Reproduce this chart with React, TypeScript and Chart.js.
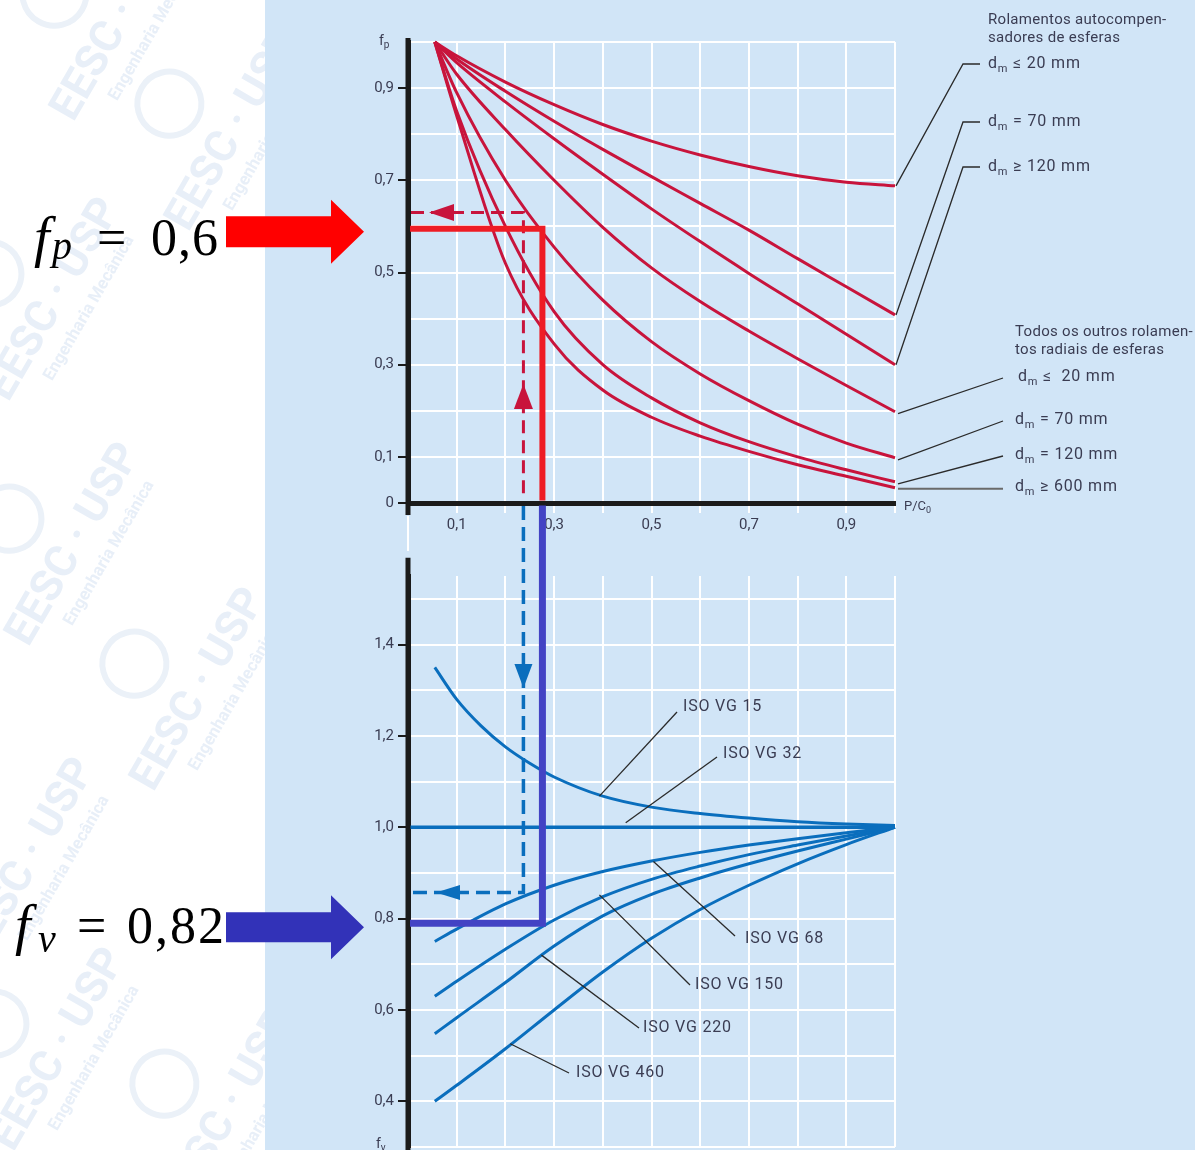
import React, { useEffect, useRef } from 'react';
import { Chart, registerables } from 'chart.js';

Chart.register(...registerables);

// ---------------- data ----------------
// P/C0 abscissa of the f_p curves
const pcRatio = [0.055, 0.1, 0.2, 0.3, 0.4, 0.5, 0.6, 0.7, 0.8, 0.9, 1.0];
// self-aligning ball bearings
const fpSelfAlignDm20 = [1.0, 0.97, 0.913, 0.864, 0.821, 0.785, 0.755, 0.73, 0.71, 0.696, 0.688];
const fpSelfAlignDm70 = [1.0, 0.963, 0.893, 0.828, 0.767, 0.708, 0.65, 0.592, 0.53, 0.469, 0.408];
const fpSelfAlignDm120 = [1.0, 0.955, 0.87, 0.79, 0.713, 0.638, 0.567, 0.498, 0.432, 0.366, 0.3];
// all other radial ball bearings
const fpRadialDm20 = [1.0, 0.93, 0.81, 0.7, 0.598, 0.51, 0.437, 0.373, 0.313, 0.255, 0.198];
const fpRadialDm70 = [1.0, 0.89, 0.7, 0.555, 0.44, 0.35, 0.28, 0.222, 0.171, 0.13, 0.098];
const fpRadialDm120 = [1.0, 0.85, 0.6, 0.415, 0.3, 0.228, 0.174, 0.133, 0.1, 0.072, 0.046];
const fpRadialDm600 = [1.0, 0.84, 0.52, 0.345, 0.245, 0.186, 0.145, 0.112, 0.083, 0.058, 0.033];

// viscosity factor curves f_v
const vg15Ratio = [0.055, 0.1, 0.15, 0.2, 0.25, 0.3, 0.4, 0.5, 0.6, 0.7, 0.8, 0.9, 1.0];
const fvVG15 = [1.35, 1.28, 1.222, 1.176, 1.14, 1.11, 1.068, 1.044, 1.03, 1.02, 1.012, 1.007, 1.004];
const vg32Ratio = [0, 1.0];
const fvVG32 = [1.0, 1.0];
const vgLowRatio = [0.055, 0.1, 0.2, 0.3, 0.4, 0.5, 0.6, 0.7, 0.8, 0.9, 1.0];
const fvVG68 = [0.75, 0.777, 0.832, 0.873, 0.903, 0.926, 0.945, 0.961, 0.975, 0.988, 1.0];
const fvVG150 = [0.63, 0.663, 0.733, 0.797, 0.848, 0.886, 0.915, 0.94, 0.961, 0.981, 1.0];
const fvVG220 = [0.548, 0.583, 0.66, 0.74, 0.806, 0.853, 0.889, 0.92, 0.948, 0.974, 1.0];
const fvVG460 = [0.4, 0.435, 0.515, 0.6, 0.683, 0.757, 0.82, 0.873, 0.92, 0.962, 1.0];

// ticks
const xTickValues = [0, 0.1, 0.2, 0.3, 0.4, 0.5, 0.6, 0.7, 0.8, 0.9, 1.0];
const xLabelValues = [0.1, 0.3, 0.5, 0.7, 0.9];
const fpTickValues = [0, 0.1, 0.2, 0.3, 0.4, 0.5, 0.6, 0.7, 0.8, 0.9, 1.0];
const fpLabelValues = [0, 0.1, 0.3, 0.5, 0.7, 0.9];
const fvTickValues = [0.3, 0.4, 0.5, 0.6, 0.7, 0.8, 0.9, 1.0, 1.1, 1.2, 1.3, 1.4, 1.5];
const fvLabelValues = [0.4, 0.6, 0.8, 1.0, 1.2, 1.4];

// readings (worked example)
const solidReading = { x: 0.276, fp: 0.595, fv: 0.79 };
const dashedReading = { x: 0.237, fp: 0.63, fv: 0.857 };

// labels
const selfAlignHeader = ['Rolamentos autocompen-', 'sadores de esferas'];
const selfAlignLabels = [' ≤ 20 mm', ' = 70 mm', ' ≥ 120 mm'];
const radialHeader = ['Todos os outros rolamen-', 'tos radiais de esferas'];
const radialLabels = [' ≤  20 mm', ' = 70 mm', ' = 120 mm', ' ≥ 600 mm'];
const oilLabels = ['ISO VG 15', 'ISO VG 32', 'ISO VG 68', 'ISO VG 150', 'ISO VG 220', 'ISO VG 460'];
const oilAnchorX = [0.393, 0.447, 0.504, 0.393, 0.274, 0.21];
const oilAnchorY = [1.068, 1.01, 0.925, 0.852, 0.72, 0.526];
const watermarkTitle = 'EESC · USP';
const watermarkSubtitle = 'Engenharia Mecânica';

// ---------------- styling ----------------
const AXIS = '#1b1b1b';
const GRID = '#ffffff';
const BG_BLUE = '#d1e5f7';
const RED_CURVE = '#c8143c';
const RED_SOLID = '#ee1c25';
const BLUE_CURVE = '#0a6ebd';
const PURPLE = '#4343c4';
const TEXT = '#3a3c52';
const LEADER = '#2a2a2a';
const FONT = 'Roboto, "Liberation Sans", sans-serif';
const MATH = '"Liberation Serif", "DejaVu Serif", serif';
const NONE = 'rgba(0,0,0,0)';

const near = (arr: number[], v: number) => arr.some((a) => Math.abs(a - v) < 1e-6);
const fmt = (v: number) => (Math.abs(v) < 1e-9 ? '0' : v.toFixed(1).replace('.', ','));

function subText(ctx: any, x: number, y: number, main: string, sub: string, rest: string, size: number, subSize: number, color: string, spacing = 0) {
  ctx.fillStyle = color;
  ctx.textAlign = 'left';
  ctx.textBaseline = 'middle';
  ctx.letterSpacing = `${spacing}px`;
  ctx.font = `${size}px ${FONT}`;
  ctx.fillText(main, x, y);
  let w = ctx.measureText(main).width;
  ctx.font = `${subSize}px ${FONT}`;
  ctx.fillText(sub, x + w, y + size * 0.32);
  w += ctx.measureText(sub).width;
  ctx.font = `${size}px ${FONT}`;
  if (rest) ctx.fillText(rest, x + w, y);
  ctx.letterSpacing = '0px';
}

function poly(ctx: CanvasRenderingContext2D, pts: number[][], color: string) {
  ctx.fillStyle = color;
  ctx.beginPath();
  ctx.moveTo(pts[0][0], pts[0][1]);
  for (let i = 1; i < pts.length; i++) ctx.lineTo(pts[i][0], pts[i][1]);
  ctx.closePath();
  ctx.fill();
}

function seg(ctx: CanvasRenderingContext2D, pts: number[][], color: string, width: number, dash: number[] = []) {
  ctx.strokeStyle = color;
  ctx.lineWidth = width;
  ctx.setLineDash(dash);
  ctx.lineJoin = 'miter';
  ctx.lineCap = 'butt';
  ctx.beginPath();
  ctx.moveTo(pts[0][0], pts[0][1]);
  for (let i = 1; i < pts.length; i++) ctx.lineTo(pts[i][0], pts[i][1]);
  ctx.stroke();
  ctx.setLineDash([]);
}

const toPoints = (xs: number[], ys: number[]) => xs.map((x, i) => ({ x, y: ys[i] }));

export default function App() {
  const topRef = useRef<HTMLCanvasElement | null>(null);
  const botRef = useRef<HTMLCanvasElement | null>(null);

  useEffect(() => {
    if (!topRef.current || !botRef.current) return;

    const fpSeries = [fpSelfAlignDm20, fpSelfAlignDm70, fpSelfAlignDm120, fpRadialDm20, fpRadialDm70, fpRadialDm120, fpRadialDm600];

    const watermarkPlugin = {
      id: 'watermark',
      beforeDraw(chart: any) {
        const { ctx } = chart;
        ctx.save();
        ctx.beginPath();
        ctx.rect(0, 0, 265, chart.height);
        ctx.clip();
        const spots = [[235, 130], [55, 300], [75, 545], [200, 690], [30, 860], [60, 1050], [230, 1110], [120, 20]];
        spots.forEach(([cx, cy]) => {
          ctx.save();
          ctx.translate(cx, cy);
          ctx.rotate(-Math.PI / 3);
          ctx.textAlign = 'center';
          ctx.textBaseline = 'middle';
          ctx.fillStyle = '#e8eff8';
          ctx.font = `bold 44px ${FONT}`;
          ctx.fillText(watermarkTitle, 0, 0);
          ctx.font = `bold 17px ${FONT}`;
          ctx.fillText(watermarkSubtitle, 10, 34);
          ctx.strokeStyle = '#ebf1f8';
          ctx.lineWidth = 6;
          ctx.beginPath();
          ctx.arc(-10, -70, 32, 0, Math.PI * 2);
          ctx.stroke();
          ctx.restore();
        });
        ctx.restore();
      },
    };

    const topPlugin = {
      id: 'topAnnot',
      afterDraw(chart: any) {
        const { ctx } = chart;
        const xs = chart.scales.x;
        const ys = chart.scales.y;
        const X = (v: number) => xs.getPixelForValue(v);
        const Y = (v: number) => ys.getPixelForValue(v);
        const x0 = X(0);
        const y0 = Y(0);
        ctx.save();

        // axis extension and white line below origin
        seg(ctx, [[x0, Y(1) - 4], [x0, y0 + 12]], AXIS, 5);
        seg(ctx, [[x0, y0 + 13], [x0, y0 + 48]], GRID, 2);

        // dashed reading (red)
        const xd = X(dashedReading.x);
        const yd = Y(dashedReading.fp);
        seg(ctx, [[x0 + 3, yd], [xd, yd], [xd, y0 - 3]], RED_CURVE, 3, [13, 7]);
        poly(ctx, [[x0 + 21, yd], [x0 + 46, yd - 8.5], [x0 + 46, yd + 8.5]], RED_CURVE);
        poly(ctx, [[xd, y0 - 119], [xd - 9.5, y0 - 94], [xd + 9.5, y0 - 94]], RED_CURVE);

        // solid reading (red)
        const xsol = X(solidReading.x);
        const ysol = Y(solidReading.fp);
        seg(ctx, [[x0 + 2, ysol], [xsol, ysol], [xsol, y0 - 2.5]], RED_SOLID, 6);

        // fp label on axis, P/C0 label
        subText(ctx, x0 - 29, Y(1) - 1, 'f', 'p', '', 14, 10, TEXT);
        subText(ctx, X(1) + 9, y0 + 4, 'P/C', '0', '', 13, 9, TEXT);

        // right side labels
        ctx.font = `15px ${FONT}`;
        ctx.fillStyle = TEXT;
        ctx.textAlign = 'left';
        ctx.textBaseline = 'middle';
        ctx.letterSpacing = '0.3px';
        ctx.fillText(selfAlignHeader[0], 988, 20);
        ctx.fillText(selfAlignHeader[1], 988, 38);
        ctx.fillText(radialHeader[0], 1015, 332);
        ctx.fillText(radialHeader[1], 1015, 350);
        ctx.letterSpacing = '0px';
        const lastX = pcRatio[pcRatio.length - 1];
        const saSeries = [fpSelfAlignDm20, fpSelfAlignDm70, fpSelfAlignDm120];
        const saY = [64, 122, 167];
        saSeries.forEach((s, i) => {
          const ax = X(lastX);
          const ay = Y(s[s.length - 1]);
          seg(ctx, [[980, saY[i]], [963, saY[i]], [ax + 1, ay]], LEADER, 1.3);
          subText(ctx, 988, saY[i], 'd', 'm', selfAlignLabels[i], 16, 11, TEXT, 0.8);
        });
        const raSeries = [fpRadialDm20, fpRadialDm70, fpRadialDm120, fpRadialDm600];
        const raY = [377, 420, 455, 487];
        raSeries.forEach((s, i) => {
          const ax = X(lastX);
          const ay = Y(s[s.length - 1]);
          if (i === 3) {
            seg(ctx, [[ax + 3, ay + 1], [1003, ay + 1]], '#6a6a6a', 2);
          } else {
            seg(ctx, [[ax + 3, ay + 2], [1003, raY[i] + 1]], LEADER, 1.3);
          }
          subText(ctx, i === 0 ? 1018 : 1015, raY[i], 'd', 'm', radialLabels[i], 16, 11, TEXT, 0.8);
        });

        // left formula and red arrow
        ctx.fillStyle = '#000';
        ctx.textBaseline = 'alphabetic';
        ctx.textAlign = 'left';
        ctx.font = `italic 56px ${MATH}`;
        ctx.fillText('f', 34, 256);
        ctx.font = `italic 40px ${MATH}`;
        ctx.fillText('p', 52, 259);
        ctx.font = `52px ${MATH}`;
        ctx.fillText('=', 97, 255);
        ctx.letterSpacing = '1px';
        ctx.fillText('0,6', 151, 255);
        ctx.letterSpacing = '0px';
        const ay = ysol + 3;
        poly(ctx, [[226, ay - 15.5], [331, ay - 15.5], [331, ay - 32], [364, ay], [331, ay + 32], [331, ay + 15.5], [226, ay + 15.5]], '#ff0000');
        ctx.restore();
      },
    };

    const commonLine = {
      pointRadius: 0,
      fill: false,
      cubicInterpolationMode: 'monotone',
      clip: false,
    };

    const topChart = new Chart(topRef.current, {
      type: 'line',
      data: {
        datasets: fpSeries.map((values) => ({
          ...commonLine,
          data: toPoints(pcRatio, values),
          borderColor: RED_CURVE,
          borderWidth: 3,
        })),
      },
      options: {
        responsive: false,
        animation: false,
        devicePixelRatio: 1,
        events: [],
        layout: { padding: { left: 408 - 60, right: 1195 - 895, top: 42, bottom: 1150 - 503 - 40 } },
        plugins: { legend: { display: false }, tooltip: { enabled: false } },
        scales: {
          x: {
            type: 'linear',
            min: 0,
            max: 1,
            afterBuildTicks: (s: any) => { s.ticks = xTickValues.map((value) => ({ value })); },
            afterFit: (s: any) => { s.height = 40; s.paddingLeft = 0; s.paddingRight = 0; },
            grid: {
              color: GRID,
              lineWidth: 2,
              drawTicks: true,
              tickLength: 10,
              tickWidth: 2,
              tickColor: (c: any) => (c.tick && Math.abs(c.tick.value) < 1e-9 ? AXIS : GRID),
            },
            border: { color: AXIS, width: 5 },
            ticks: {
              autoSkip: false,
              maxRotation: 0,
              padding: 3,
              color: TEXT,
              font: { family: FONT, size: 15 },
              callback: (v: any) => (near(xLabelValues, Number(v)) ? fmt(Number(v)) : ''),
            },
          },
          y: {
            type: 'linear',
            min: 0,
            max: 1,
            afterBuildTicks: (s: any) => { s.ticks = fpTickValues.map((value) => ({ value })); },
            afterFit: (s: any) => { s.width = 60; s.paddingTop = 0; s.paddingBottom = 0; },
            grid: {
              color: (c: any) => (c.tick && Math.abs(c.tick.value) < 1e-9 ? NONE : GRID),
              lineWidth: 2,
              drawTicks: true,
              tickLength: 10,
              tickWidth: 2,
              tickColor: (c: any) => (c.tick && near(fpLabelValues, c.tick.value) ? AXIS : NONE),
            },
            border: { color: AXIS, width: 5 },
            ticks: {
              padding: 4,
              color: TEXT,
              font: { family: FONT, size: 15 },
              callback: (v: any) => (near(fpLabelValues, Number(v)) ? fmt(Number(v)) : ''),
            },
          },
        },
      } as any,
      plugins: [watermarkPlugin, topPlugin],
    } as any);

    const botPlugin = {
      id: 'botAnnot',
      afterDraw(chart: any) {
        const { ctx } = chart;
        const xs = chart.scales.x;
        const ys = chart.scales.y;
        const X = (v: number) => xs.getPixelForValue(v);
        const Y = (v: number) => ys.getPixelForValue(v);
        const x0 = X(0);
        const topY0 = topChart.scales.y.getPixelForValue(0);
        ctx.save();

        // axis extension
        seg(ctx, [[x0, Y(1.59)], [x0, chart.height]], AXIS, 5);

        // leaders and oil labels
        const textPos = [[683, 707], [723, 754], [745, 939], [695, 985], [643, 1028], [576, 1073]];
        const leadStart = [[677, 712], [717, 757], [735, 936], [690, 985], [639, 1028], [569, 1073]];
        oilLabels.forEach((lab, i) => {
          seg(ctx, [[leadStart[i][0], leadStart[i][1]], [X(oilAnchorX[i]), Y(oilAnchorY[i])]], LEADER, 1.3);
          ctx.font = `16px ${FONT}`;
          ctx.fillStyle = TEXT;
          ctx.textAlign = 'left';
          ctx.textBaseline = 'middle';
          ctx.letterSpacing = '0.8px';
          ctx.fillText(lab, textPos[i][0], textPos[i][1]);
          ctx.letterSpacing = '0px';
        });

        // dashed reading (blue)
        const xd = X(dashedReading.x);
        const yd = Y(dashedReading.fv);
        seg(ctx, [[xd, topY0 + 3], [xd, yd], [x0 + 3, yd]], BLUE_CURVE, 3.5, [14, 7]);
        poly(ctx, [[xd, topY0 + 185], [xd - 9, topY0 + 161], [xd + 9, topY0 + 161]], BLUE_CURVE);
        poly(ctx, [[x0 + 28, yd], [x0 + 52, yd - 7.5], [x0 + 52, yd + 7.5]], BLUE_CURVE);

        // solid reading (purple)
        const xsol = X(solidReading.x);
        const ysol = Y(solidReading.fv);
        seg(ctx, [[xsol, topY0 + 2.5], [xsol, ysol], [x0 + 2, ysol]], PURPLE, 7);

        // fv label at the bottom of the axis
        subText(ctx, x0 - 32, chart.height - 6, 'f', 'v', '', 14, 10, TEXT);

        // left formula and blue arrow
        ctx.fillStyle = '#000';
        ctx.textBaseline = 'alphabetic';
        ctx.textAlign = 'left';
        ctx.font = `italic 56px ${MATH}`;
        ctx.fillText('f', 15, 944);
        ctx.font = `italic 40px ${MATH}`;
        ctx.fillText('v', 38, 952);
        ctx.font = `52px ${MATH}`;
        ctx.fillText('=', 77, 943);
        ctx.letterSpacing = '2px';
        ctx.fillText('0,82', 127, 943);
        ctx.letterSpacing = '0px';
        const ay = ysol + 4;
        poly(ctx, [[226, ay - 15], [331, ay - 15], [331, ay - 32], [364, ay], [331, ay + 32], [331, ay + 15], [226, ay + 15]], '#3232b8');
        ctx.restore();
      },
    };

    const botChart = new Chart(botRef.current, {
      type: 'line',
      data: {
        datasets: [
          toPoints(vg15Ratio, fvVG15),
          toPoints(vg32Ratio, fvVG32),
          toPoints(vgLowRatio, fvVG68),
          toPoints(vgLowRatio, fvVG150),
          toPoints(vgLowRatio, fvVG220),
          toPoints(vgLowRatio, fvVG460),
        ].map((data, i) => ({
          ...commonLine,
          data,
          borderColor: BLUE_CURVE,
          borderWidth: i === 1 ? 3.5 : 3,
        })),
      },
      options: {
        responsive: false,
        animation: false,
        devicePixelRatio: 1,
        events: [],
        layout: { padding: { left: 408 - 60, right: 1195 - 895, top: 576, bottom: 3 } },
        plugins: { legend: { display: false }, tooltip: { enabled: false } },
        scales: {
          x: {
            type: 'linear',
            min: 0,
            max: 1,
            afterBuildTicks: (s: any) => { s.ticks = xTickValues.map((value) => ({ value })); },
            afterFit: (s: any) => { s.height = 0; s.paddingLeft = 0; s.paddingRight = 0; },
            grid: { color: GRID, lineWidth: 2, drawTicks: false },
            border: { display: false },
            ticks: { display: false },
          },
          y: {
            type: 'linear',
            min: 0.3,
            max: 1.55,
            afterBuildTicks: (s: any) => { s.ticks = fvTickValues.map((value) => ({ value })); },
            afterFit: (s: any) => { s.width = 60; s.paddingTop = 0; s.paddingBottom = 0; },
            grid: {
              color: GRID,
              lineWidth: 2,
              drawTicks: true,
              tickLength: 10,
              tickWidth: 2,
              tickColor: (c: any) => (c.tick && near(fvLabelValues, c.tick.value) ? AXIS : NONE),
            },
            border: { color: AXIS, width: 5 },
            ticks: {
              padding: 4,
              color: TEXT,
              font: { family: FONT, size: 15 },
              callback: (v: any) => (near(fvLabelValues, Number(v)) ? fmt(Number(v)) : ''),
            },
          },
        },
      } as any,
      plugins: [botPlugin],
    } as any);

    return () => {
      botChart.destroy();
      topChart.destroy();
    };
  }, []);

  return (
    <div style={{ position: 'absolute', left: 0, top: 0, width: 1195, height: 1150, background: '#ffffff', overflow: 'hidden' }}>
      <div style={{ position: 'absolute', left: 265, top: 0, width: 930, height: 1150, background: BG_BLUE }} />
      <canvas ref={topRef} width={1195} height={1150} style={{ position: 'absolute', left: 0, top: 0 }} />
      <canvas ref={botRef} width={1195} height={1150} style={{ position: 'absolute', left: 0, top: 0 }} />
    </div>
  );
}
